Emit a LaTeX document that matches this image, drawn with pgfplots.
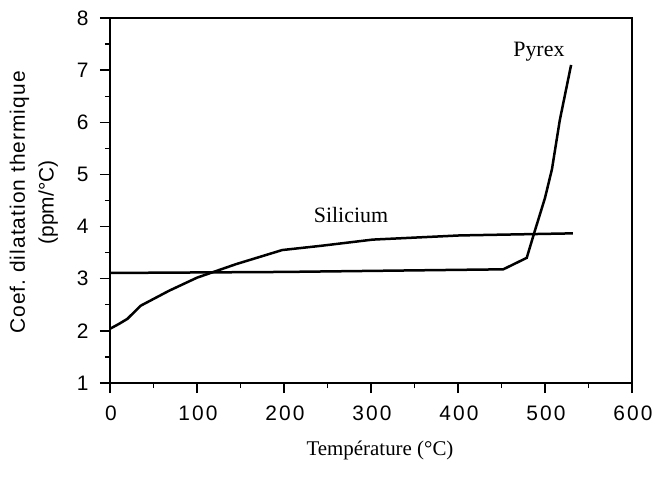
\documentclass[border=0pt]{standalone}
\usepackage{fontspec}
\setmainfont{Liberation Serif}
\newfontfamily\sansf{Liberation Sans}
\newfontfamily\sansls[LetterSpace=5]{Liberation Sans}
\newfontfamily\sanstick[LetterSpace=10]{Liberation Sans}
\usepackage{pgfplots}
\pgfplotsset{compat=1.18}

\begin{document}
\begin{tikzpicture}
\begin{axis}[
  scale only axis, width=522bp, height=365bp,
  xmin=0, xmax=600, ymin=1, ymax=8,
  xtick={0,100,...,600}, minor xtick={50,150,...,550},
  ytick={1,...,8}, minor ytick={1.5,2.5,...,7.5},
  xtick pos=bottom, ytick pos=left,
  tick align=outside,
  major tick length=10bp, minor tick length=5bp,
  every tick/.style={black, line width=1.4pt},
  axis line style={line width=2bp},
  /pgf/number format/assume math mode=true,
  yticklabel style={font=\sansf\fontsize{21}{22}\selectfont, xshift=-8bp},
  xticklabel style={font=\sanstick\fontsize{21}{22}\selectfont, yshift=-9bp, xshift=1bp},
  xlabel={Température (°C)},
  xlabel style={font=\rmfamily\fontsize{21}{22}\selectfont, yshift=-14bp, xshift=9bp},
  ylabel={{\sansls Coef.\ dilatation thermique}\\{\sansf (ppm/°C)}},
  ylabel style={font=\sansf\fontsize{21}{29}\selectfont, align=center, yshift=12bp, xshift=-2bp},
  clip=false,
]
\addplot[black, line width=2.5bp] coordinates {
  (0,3.11) (100,3.12) (200,3.13) (300,3.15) (400,3.17) (452,3.18)
  (479,3.40) (488,3.90) (500,4.55) (508,5.1) (517,6.04) (530,7.10)
};
\addplot[black, line width=2.5bp] coordinates {
  (0,2.04) (10,2.13) (20,2.23) (35,2.48) (68,2.77) (100,3.02) (145,3.28)
  (198,3.55) (242,3.63) (302,3.75) (402,3.83) (532,3.87)
};
\node[font=\rmfamily\fontsize{22}{22}\selectfont] at (axis cs:493,7.35) {Pyrex};
\node[font=\rmfamily\fontsize{22}{22}\selectfont] at (axis cs:277,4.22) {Silicium};
\end{axis}
\pgfresetboundingbox
\path[use as bounding box] (-110bp,-97bp) rectangle (550bp,383bp);
\end{tikzpicture}
\end{document}
